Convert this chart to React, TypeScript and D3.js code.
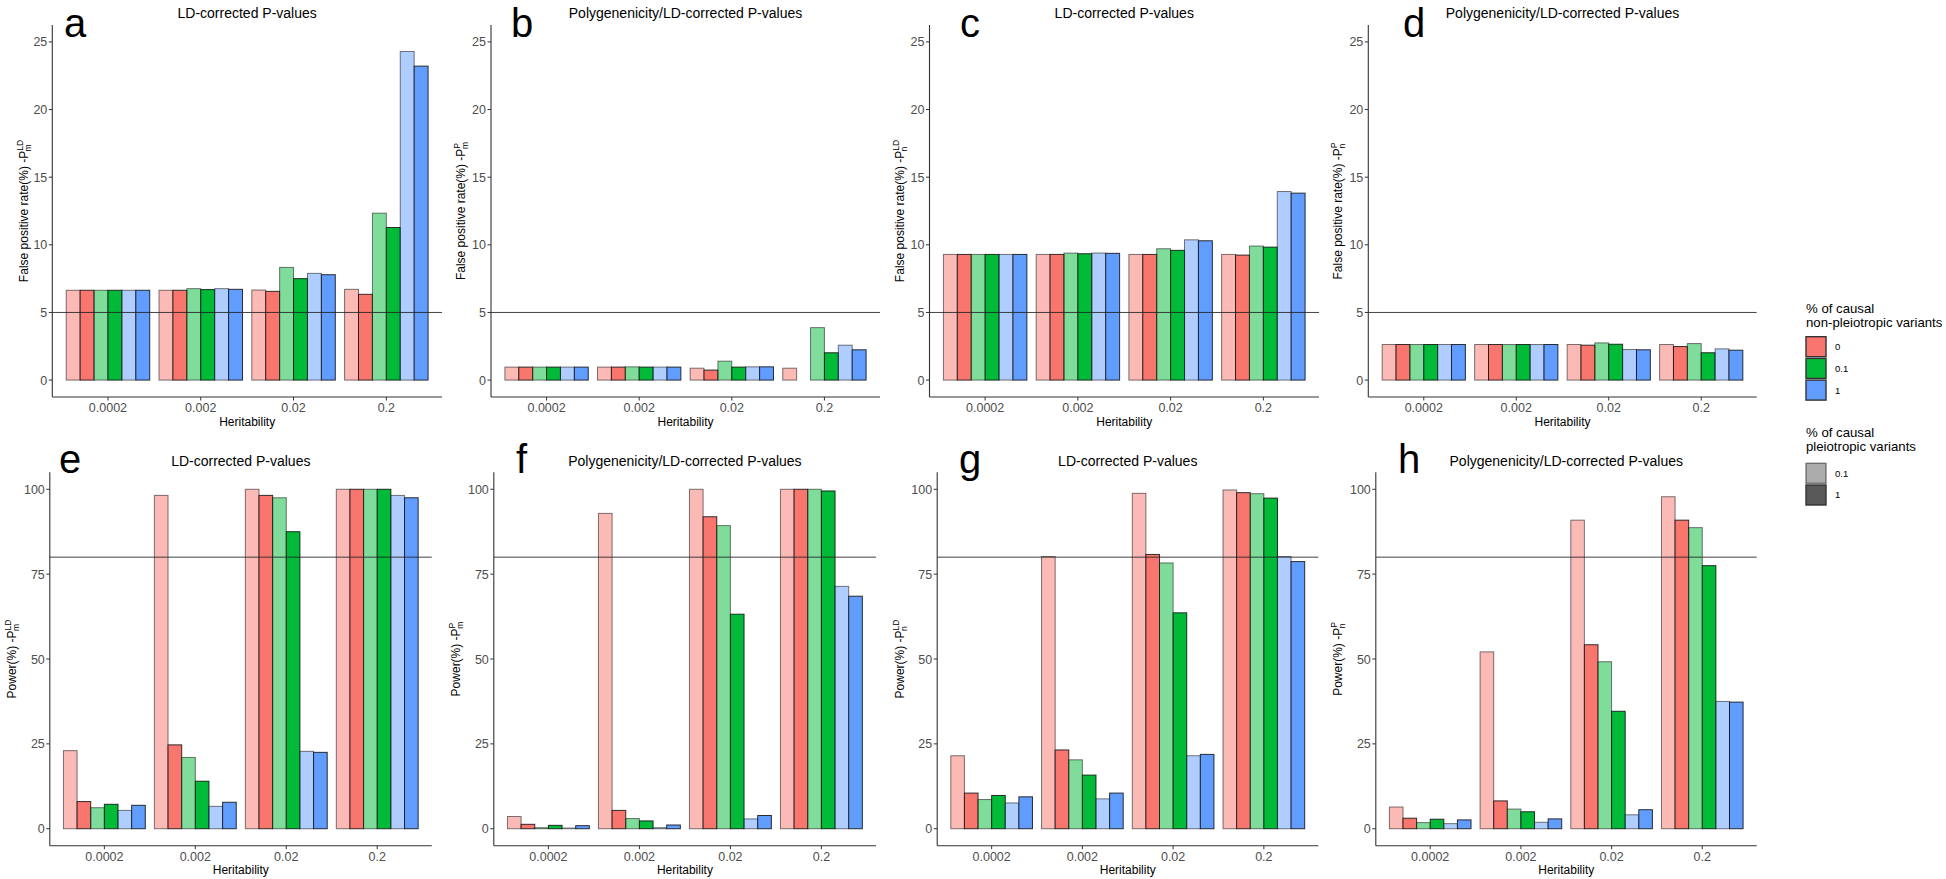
import React from "react";
import * as d3 from "d3";

// ---------------- data ----------------
const heritability = ["0.0002", "0.002", "0.02", "0.2"];
const nonPleioLevels = ["0", "0.1", "1"];
const pleioLevels = ["0.1", "1"];
const baseColors = ["#F8766D", "#00BA38", "#619CFF"];
const alphaByPleio = [0.5, 1];

// series order within each heritability group:
// (0,0.1) (0,1) (0.1,0.1) (0.1,1) (1,0.1) (1,1)
const fprA = [
  [6.64, 6.64, 6.64, 6.64, 6.64, 6.64],
  [6.64, 6.64, 6.76, 6.69, 6.76, 6.71],
  [6.66, 6.56, 8.33, 7.5, 7.89, 7.79],
  [6.71, 6.34, 12.34, 11.28, 24.29, 23.21],
];
const fprB = [
  [0.96, 0.96, 0.96, 0.96, 0.96, 0.96],
  [0.96, 0.96, 0.98, 0.96, 0.96, 0.96],
  [0.88, 0.74, 1.4, 0.96, 0.98, 0.98],
  [0.88, 0, 3.88, 2.02, 2.58, 2.24],
];
const fprC = [
  [9.29, 9.29, 9.29, 9.29, 9.29, 9.29],
  [9.29, 9.29, 9.39, 9.34, 9.39, 9.37],
  [9.29, 9.29, 9.71, 9.59, 10.37, 10.3],
  [9.29, 9.24, 9.91, 9.83, 13.94, 13.82],
];
const fprD = [
  [2.63, 2.63, 2.63, 2.63, 2.63, 2.63],
  [2.63, 2.63, 2.63, 2.63, 2.63, 2.63],
  [2.63, 2.58, 2.75, 2.65, 2.26, 2.24],
  [2.63, 2.48, 2.7, 2.02, 2.31, 2.21],
];
const powE = [
  [23.0, 8.0, 6.2, 7.2, 5.4, 6.9],
  [98.2, 24.7, 21.0, 14.0, 6.6, 7.8],
  [100, 98.2, 97.5, 87.5, 22.8, 22.5],
  [100, 100, 100, 100, 98.2, 97.5],
];
const powF = [
  [3.6, 1.3, 0.3, 1.0, 0.2, 0.9],
  [92.9, 5.4, 3.0, 2.3, 0.3, 1.1],
  [100, 91.9, 89.3, 63.2, 2.9, 3.9],
  [100, 100, 100, 99.5, 71.4, 68.5],
];
const powG = [
  [21.5, 10.5, 8.6, 9.8, 7.6, 9.4],
  [80.2, 23.2, 20.3, 15.8, 8.8, 10.5],
  [98.8, 80.8, 78.3, 63.6, 21.5, 21.9],
  [99.8, 99.0, 98.7, 97.4, 80.2, 78.7],
];
const powH = [
  [6.4, 3.1, 1.8, 2.8, 1.5, 2.6],
  [52.1, 8.2, 5.8, 5.0, 1.9, 2.9],
  [90.9, 54.2, 49.2, 34.6, 4.1, 5.6],
  [97.8, 90.9, 88.7, 77.5, 37.5, 37.3],
];

const fprTicks = [0, 5, 10, 15, 20, 25];
const powTicks = [0, 25, 50, 75, 100];
const fprThreshold = 5;
const powThreshold = 80;

// ---------------- layout ----------------
const FONT = "'Liberation Sans', Arial, Helvetica, sans-serif";

const rows = [
  { top: 25, bottom: 397, domain: [-1.25, 26.25], ticks: fprTicks, threshold: fprThreshold, titleY: 18, letterY: 36.5 },
  { top: 472.3, bottom: 845.7, domain: [-5, 105], ticks: powTicks, threshold: powThreshold, titleY: 466, letterY: 473 },
];

const panels = [
  { letter: "a", title: "LD-corrected P-values", data: fprA, yTitle: "False positive rate(%) -P", sup: "LD", sub: "m", row: 0, x0: 52.3, x1: 442, yLabX: 27.5, letterX: 64 },
  { letter: "b", title: "Polygenenicity/LD-corrected P-values", data: fprB, yTitle: "False positive rate(%) -P", sup: "P", sub: "m", row: 0, x0: 491, x1: 880, yLabX: 465, letterX: 511 },
  { letter: "c", title: "LD-corrected P-values", data: fprC, yTitle: "False positive rate(%) -P", sup: "LD", sub: "n", row: 0, x0: 929.5, x1: 1319, yLabX: 904, letterX: 960 },
  { letter: "d", title: "Polygenenicity/LD-corrected P-values", data: fprD, yTitle: "False positive rate(%) -P", sup: "P", sub: "n", row: 0, x0: 1368.3, x1: 1756.7, yLabX: 1342, letterX: 1403 },
  { letter: "e", title: "LD-corrected P-values", data: powE, yTitle: "Power(%) -P", sup: "LD", sub: "m", row: 1, x0: 49.8, x1: 431.8, yLabX: 15.5, letterX: 59 },
  { letter: "f", title: "Polygenenicity/LD-corrected P-values", data: powF, yTitle: "Power(%) -P", sup: "P", sub: "m", row: 1, x0: 493.8, x1: 876, yLabX: 460, letterX: 516 },
  { letter: "g", title: "LD-corrected P-values", data: powG, yTitle: "Power(%) -P", sup: "LD", sub: "n", row: 1, x0: 937.2, x1: 1318.3, yLabX: 903.5, letterX: 959 },
  { letter: "h", title: "Polygenenicity/LD-corrected P-values", data: powH, yTitle: "Power(%) -P", sup: "P", sub: "n", row: 1, x0: 1375.8, x1: 1756.7, yLabX: 1342, letterX: 1398 },
];

const seriesKeys: { np: number; p: number }[] = [];
nonPleioLevels.forEach((_, i) => pleioLevels.forEach((_, j) => seriesKeys.push({ np: i, p: j })));

function Panel({ cfg }: { cfg: any }) {
  const row = rows[cfg.row];
  const xBand = d3
    .scaleBand<string>()
    .domain(heritability)
    .range([cfg.x0, cfg.x1])
    .paddingInner(0.1)
    .paddingOuter(0.15);
  const xInner = d3
    .scaleBand<number>()
    .domain(d3.range(seriesKeys.length))
    .range([0, xBand.bandwidth()])
    .padding(0);
  const y = d3.scaleLinear().domain(row.domain).range([row.bottom, row.top]);
  const y0 = y(0);
  const cx = (cfg.x0 + cfg.x1) / 2;
  const cy = (row.top + row.bottom) / 2;
  const supW = cfg.sup === "LD" ? 11.5 : 6;

  return (
    <g>
      {/* bars */}
      {cfg.data.map((grp: number[], gi: number) =>
        grp.map((v: number, si: number) => {
          const key = seriesKeys[si];
          const xx = (xBand(heritability[gi]) as number) + (xInner(si) as number);
          const yy = y(v);
          const alpha = alphaByPleio[key.p];
          return (
            <rect
              key={`${gi}-${si}`}
              x={xx}
              y={Math.min(yy, y0)}
              width={xInner.bandwidth()}
              height={Math.abs(y0 - yy)}
              fill={baseColors[key.np]}
              fillOpacity={alpha}
              stroke="#111"
              strokeOpacity={alpha === 1 ? 0.85 : 0.55}
              strokeWidth={1}
            />
          );
        })
      )}
      {/* threshold line */}
      <line x1={cfg.x0} x2={cfg.x1} y1={y(row.threshold)} y2={y(row.threshold)} stroke="#222" strokeWidth={1} strokeOpacity={0.85} />
      {/* axes */}
      <line x1={cfg.x0} x2={cfg.x0} y1={row.top} y2={row.bottom} stroke="#333" strokeWidth={1.1} />
      <line x1={cfg.x0} x2={cfg.x1} y1={row.bottom} y2={row.bottom} stroke="#333" strokeWidth={1.1} />
      {row.ticks.map((t: number) => (
        <g key={t}>
          <line x1={cfg.x0 - 3.5} x2={cfg.x0} y1={y(t)} y2={y(t)} stroke="#333" strokeWidth={1} />
          <text x={cfg.x0 - 5} y={y(t)} dy="0.36em" textAnchor="end" fontSize={12.5} fill="#4d4d4d" fontFamily={FONT}>
            {t}
          </text>
        </g>
      ))}
      {heritability.map((h) => {
        const hx = (xBand(h) as number) + xBand.bandwidth() / 2;
        return (
          <g key={h}>
            <line x1={hx} x2={hx} y1={row.bottom} y2={row.bottom + 3.5} stroke="#333" strokeWidth={1} />
            <text x={hx} y={row.bottom + 15} textAnchor="middle" fontSize={12.5} fill="#4d4d4d" fontFamily={FONT}>
              {h}
            </text>
          </g>
        );
      })}
      {/* axis titles */}
      <text x={cx} y={row.bottom + 28.5} textAnchor="middle" fontSize={12} fill="#000" fontFamily={FONT}>
        Heritability
      </text>
      <text transform={`translate(${cfg.yLabX},${cy}) rotate(-90)`} textAnchor="middle" fontSize={12} fill="#000" fontFamily={FONT}>
        <tspan>{cfg.yTitle}</tspan>
        <tspan fontSize={8.5} dy={-5}>{cfg.sup}</tspan>
        <tspan fontSize={8.5} dx={-supW} dy={8}>{cfg.sub}</tspan>
      </text>
      {/* title */}
      <text x={cx} y={row.titleY} textAnchor="middle" fontSize={14} fill="#000" fontFamily={FONT}>
        {cfg.title}
      </text>
      {/* panel letter */}
      <text x={cfg.letterX} y={row.letterY} fontSize={40} fill="#000" fontFamily={FONT}>
        {cfg.letter}
      </text>
    </g>
  );
}

function Legend() {
  const lx = 1806;
  const keyW = 20;
  const keyH = 20;
  const gap = 1.7;
  return (
    <g fontFamily={FONT}>
      <text x={lx} y={313} fontSize={13.2} fill="#000">% of causal</text>
      <text x={lx} y={326.5} fontSize={13.2} fill="#000">non-pleiotropic variants</text>
      {nonPleioLevels.map((lv, i) => {
        const ky = 336.7 + i * (keyH + gap);
        return (
          <g key={lv}>
            <rect x={lx} y={ky} width={keyW} height={keyH} fill={baseColors[i]} stroke="#333" strokeWidth={1.4} />
            <text x={lx + 29} y={ky + keyH / 2} dy="0.36em" fontSize={9.5} fill="#000">{lv}</text>
          </g>
        );
      })}
      <text x={lx} y={437} fontSize={13.2} fill="#000">% of causal</text>
      <text x={lx} y={450.5} fontSize={13.2} fill="#000">pleiotropic variants</text>
      {pleioLevels.map((lv, i) => {
        const ky = 463.3 + i * (keyH + gap);
        return (
          <g key={lv}>
            <rect x={lx} y={ky} width={keyW} height={keyH} fill="#595959" fillOpacity={alphaByPleio[i]} stroke="#333" strokeWidth={1.4} strokeOpacity={alphaByPleio[i] === 1 ? 1 : 0.6} />
            <text x={lx + 29} y={ky + keyH / 2} dy="0.36em" fontSize={9.5} fill="#000">{lv}</text>
          </g>
        );
      })}
    </g>
  );
}

export default function App() {
  return (
    <svg
      width={1946}
      height={879}
      viewBox="0 0 1946 879"
      style={{ position: "absolute", left: 0, top: 0, background: "#fff" }}
    >
      <rect x={0} y={0} width={1946} height={879} fill="#fff" />
      {panels.map((p) => (
        <Panel key={p.letter} cfg={p} />
      ))}
      <Legend />
    </svg>
  );
}
